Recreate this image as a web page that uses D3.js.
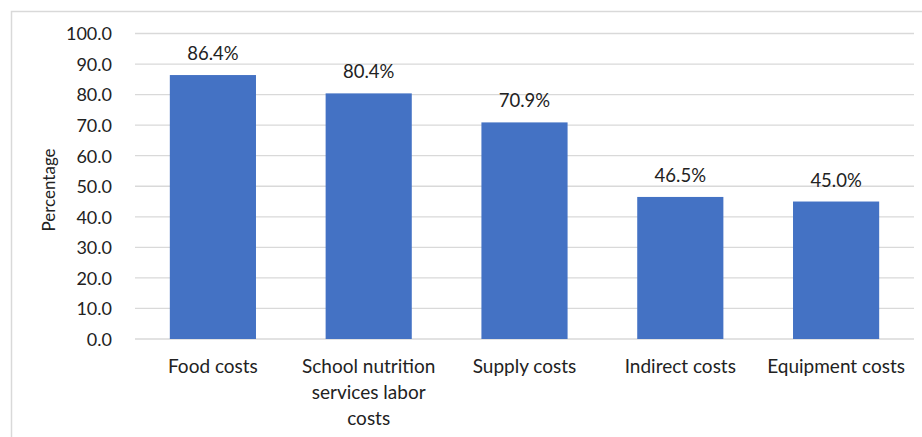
<!DOCTYPE html>
<meta charset="utf-8">
<script src="https://d3js.org/d3.v7.min.js"></script>
<style>
  body { margin: 0; background: #fff; }
  text { font-family: Lato, "Open Sans", sans-serif; fill: #222; }
</style>
<div id="my_dataviz"></div>
<script>
// data
var categories = ["Food costs", "School nutrition services labor costs", "Supply costs", "Indirect costs", "Equipment costs"];
var values = [86.4, 80.4, 70.9, 46.5, 45.0];
var yTicks = [0, 10, 20, 30, 40, 50, 60, 70, 80, 90, 100];
// manual line breaks for long category labels
var labelLines = [["Food costs"], ["School nutrition", "services labor", "costs"], ["Supply costs"], ["Indirect costs"], ["Equipment costs"]];

var W = 922, H = 437;
var margin = {top: 33.5, right: 8, bottom: 98, left: 135},
    width = W - margin.left - margin.right,
    height = H - margin.top - margin.bottom;

var root = d3.select("#my_dataviz")
  .append("svg")
    .attr("width", W)
    .attr("height", H);

// chart border
root.append("rect")
  .attr("x", 11.5).attr("y", 11.5)
  .attr("width", W + 10).attr("height", H + 10)
  .attr("fill", "none")
  .attr("stroke", "#d9d9d9")
  .attr("stroke-width", 1.5);

var svg = root.append("g")
  .attr("transform", "translate(" + margin.left + "," + margin.top + ")");

var x = d3.scaleBand()
  .domain(categories)
  .range([0, width])
  .paddingInner(0.447)
  .paddingOuter(0.2235);

var y = d3.scaleLinear()
  .domain([0, 100])
  .range([height, 0]);

// gridlines
svg.append("g")
  .selectAll("line")
  .data(yTicks)
  .enter().append("line")
    .attr("x1", 0).attr("x2", width)
    .attr("y1", function(d) { return y(d); })
    .attr("y2", function(d) { return y(d); })
    .attr("stroke", "#d9d9d9")
    .attr("stroke-width", 1.3);

// y axis
var yAxis = svg.append("g")
  .attr("transform", "translate(-20,0)")
  .call(d3.axisLeft(y).tickValues(yTicks).tickSize(0).tickFormat(d3.format(".1f")));
yAxis.select(".domain").remove();
yAxis.selectAll("text")
  .style("font-size", "18px")
  .style("fill", "#222")
  .attr("dy", "0.35em");

// bars
svg.selectAll(".bar")
  .data(values)
  .enter().append("rect")
    .attr("class", "bar")
    .attr("x", function(d, i) { return x(categories[i]); })
    .attr("width", x.bandwidth())
    .attr("y", function(d) { return y(d); })
    .attr("height", function(d) { return height - y(d); })
    .attr("fill", "#4472C4");

// value labels
svg.selectAll(".vlabel")
  .data(values)
  .enter().append("text")
    .attr("class", "vlabel")
    .attr("x", function(d, i) { return x(categories[i]) + x.bandwidth() / 2; })
    .attr("y", function(d) { return y(d) - 15; })
    .attr("text-anchor", "middle")
    .style("font-size", "18.5px")
    .text(function(d) { return d.toFixed(1) + "%"; });

// category labels
var cat = svg.selectAll(".cat")
  .data(categories)
  .enter().append("text")
    .attr("class", "cat")
    .attr("text-anchor", "middle")
    .attr("x", function(d) { return x(d) + x.bandwidth() / 2; })
    .attr("y", height + 34)
    .style("font-size", "19px");
cat.each(function(d, i) {
  var t = d3.select(this);
  labelLines[i].forEach(function(line, j) {
    t.append("tspan")
      .attr("x", x(d) + x.bandwidth() / 2)
      .attr("dy", j === 0 ? 0 : 26)
      .text(line);
  });
});

// y title
root.append("text")
  .attr("transform", "translate(55,190) rotate(-90)")
  .attr("text-anchor", "middle")
  .style("font-size", "17px")
  .text("Percentage");
</script>
